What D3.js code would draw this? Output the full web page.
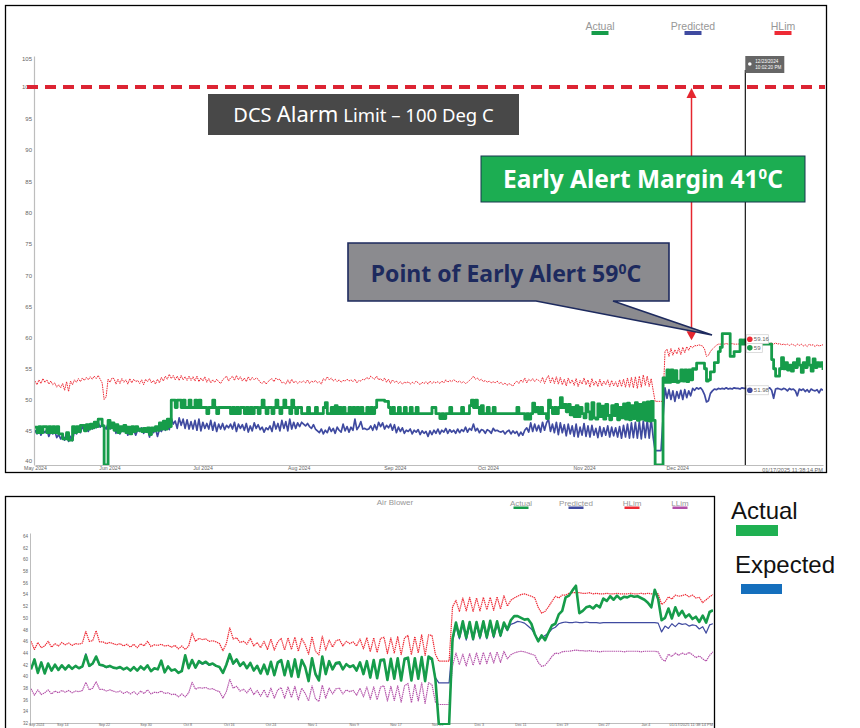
<!DOCTYPE html>
<html><head><meta charset="utf-8">
<script src="https://cdn.jsdelivr.net/npm/d3@7"></script>
<style>html,body{margin:0;background:#fff}svg{display:block}text{font-family:"Liberation Sans",sans-serif}</style>
</head><body><div id="c"></div>
<script>
const topYTicks=[105,100,95,90,85,80,75,70,65,60,55,50,45,40];
const topXLabels=["May 2024","Jun 2024","Jul 2024","Aug 2024","Sep 2024","Oct 2024","Nov 2024","Dec 2024"];
const topXDates=["2024-05-08","2024-06-01","2024-07-01","2024-08-01","2024-09-01","2024-10-01","2024-11-01","2024-12-01"];
const bottomYTicks=[64,62,60,58,56,54,52,50,48,46,44,42,40,38,36,34,32];
const bottomXLabels=["Sep 2024","Sep 14","Sep 22","Sep 30","Oct 8","Oct 16","Oct 24","Nov 1","Nov 9","Nov 17","Nov 25","Dec 3","Dec 11","Dec 19","Dec 27","Jan 4"];
const bottomXDates=["2024-09-08","2024-09-14","2024-09-22","2024-09-30","2024-10-08","2024-10-16","2024-10-24","2024-11-01","2024-11-09","2024-11-17","2024-11-25","2024-12-03","2024-12-11","2024-12-19","2024-12-27","2025-01-04"];
const topSpan=["2024-05-08","2025-01-17"];
const bottomSpan=["2024-09-08","2025-01-17"];

const topActual=[
45.5,44.6,45.6,44.6,45.6,45.6,44.6,45.6,44.6,45.6,44.6,45.6,44.4,44.4,43.6,43.6,44.6,43.4,43.4,45.6,
44.6,45.6,44.8,45.8,45.8,44.9,45.9,45.2,46,45.4,46.3,45.6,46.8,46.8,45.7,39.5,39.5,46.6,45.4,46.2,
45,45.9,44.6,45.6,44.9,45.8,44.6,45.5,44.4,45.6,44.8,45.6,45,45.2,44.8,45.3,44.8,45.4,44.3,45.4,
44.9,45.6,45,46.2,45.2,46.5,45.2,46.8,45.6,49.9,49.9,48.7,49.9,49.9,48.7,49.9,48.7,48.7,49.9,48.7,
48.7,49.9,48.7,49.9,48.7,48.7,48.7,47.7,48.7,48.7,49.9,48.7,47.7,48.7,48.7,48.7,48.7,48.7,48.7,47.7,
48.7,47.7,48.7,47.7,48.7,48.7,47.7,48.7,47.7,48.7,47.7,48.7,48.7,47.7,48.7,49.9,48.7,47.7,48.7,48.7,
47.7,48.7,49.9,48.7,47.7,48.7,49.9,48.7,48.7,47.7,49.9,48.7,47.7,48.7,48.7,47.7,47.7,47.7,48.7,47.7,
47.7,47.7,48.7,47.7,47.7,47.7,48.7,49.5,47.7,47.7,48.7,47.7,49,47.7,48.7,47.7,48.7,47.7,47.7,48.7,
47.7,48.7,47.7,48.7,47.7,48.7,47.7,47.7,48.7,47.7,48.7,47.7,48.7,49.9,49.9,49.9,49.9,49.7,49.7,48.7,
47.7,48.7,47.7,47.7,48.7,47.7,47.7,48.7,47.7,47.7,48.7,47.7,47.7,48.7,47.7,47.7,47.7,47.7,47.7,47.7,
47.7,48.7,48.7,47.7,47.7,46.9,47.7,46.9,47.7,47.7,48.7,47.7,47.7,47.7,47.7,47.7,48.7,47.7,47.7,47.7,
49,49.9,48.7,49.9,48.7,47.7,49,47.7,47.7,48.7,47.7,47.7,48.7,47.7,47.7,47.7,47.7,47.7,47.7,47.7,
47.7,47.7,47.7,47.7,48.7,47.7,47.7,47.7,46.8,47.7,46.8,47.7,49.4,48,48.7,47.7,48.7,47.7,47.7,46.9,
49.9,48.7,47.7,48.7,47.7,48.7,50.3,48.7,49.2,48,49.2,47.5,48.7,47.2,49,47.2,48.7,47.7,47,49.3,
48,46.8,49.5,47,46.8,49.3,47.2,48.9,46.8,49.2,47.4,46.7,49,47.4,49.2,46.7,48.7,47,49.3,46.8,
49.4,46.7,49,46.9,49.5,46.6,49.2,46.8,49.5,46.6,49.6,46.5,49.7,46.6,39.5,39.5,39.5,39.5,53.5,52.8,
54.8,52.8,54.8,52.9,54.7,52.8,53,54.8,53,54.8,52.9,54.8,53.2,55,54.9,55.9,55.9,55.9,55.9,55,
53,53.2,54.5,54.5,56,56,57.8,58.5,60.7,60.7,60.7,60.7,57,57,57.8,57.8,57.8,59.7,59,59.7,
59,59,59.7,59,59,59,59,59,59,59,59,59,59,56.5,55,53.8,53.8,55,56.8,55,
56,54.8,55.6,54.6,56,55.2,56.6,55.6,54.4,56,55.2,56.8,55.6,54.6,56.6,55.2,56,55.4,56,54.8];
const topPredicted=[
45,44.4,45.2,44.2,45,44.6,45.1,44,44.8,44.4,44.9,43.8,44.3,43.6,44.2,43.4,44.6,43.2,44,43.3,
45,44.4,45.3,44.6,45.6,45,45.4,44.8,45.8,45.2,46,45.4,46.2,45.5,46,45.6,45.2,46.1,45.2,45.7,
45.9,44.5,45.4,44.4,45.2,44.8,45.3,44.2,45.2,44.5,45,44.2,45.1,44.8,45.4,44.5,44.9,45.2,43.9,45.2,
44.6,45.3,44,45.1,44.8,45.6,45,45.7,45.1,47,46,46.5,45.3,47,45.8,46.8,45.3,46.7,45.2,46.4,
45.2,46.6,45,46.8,44.9,46.3,45.3,46.1,45.2,46.6,45,46.3,44.8,46,45.2,46.1,45.1,45.8,45.4,46,
45.2,46.3,44.8,46,45.3,45.9,45,46.1,44.7,45.7,44.9,46.2,45.3,45.9,45.1,45.5,44.7,45.4,45.1,45.7,
44.8,46.4,45.2,46.1,44.9,46.6,45.3,46.4,44.9,46.8,45.2,46.3,45.3,46.2,45.6,46.3,46,45.7,46.1,45.6,
45.3,45.9,45.2,44.9,44.6,45.2,44.4,45,44.6,45.5,44.8,45.3,44.5,45.5,45,44.7,46,44.9,45.6,44.7,
45.5,45,46.8,45.1,45.6,46.4,45.2,45.3,45.1,45.2,45.7,45,45.9,45.1,46.3,45.6,46.2,45.2,45.8,45.4,
46,45,45.9,44.6,45.5,44.8,45.4,44.5,45,44.8,45.2,44.4,45,44.7,45.1,44.3,44.9,44.5,44.8,44,
44.9,44.3,45,44.5,45.2,44.4,45,44.7,45.3,44.5,45.1,44.7,45,44.5,45.2,44.6,45.1,44.8,45.5,44.7,
45.3,45,46,44.9,45.3,44.6,45.1,45,44.5,45.1,44.9,44.5,45.3,44.9,45,44.8,44.7,44.9,44.4,44.8,
45,44.4,44.9,44.5,44.8,44.1,44.7,44.2,45,45.4,44.7,46.2,44.8,46,44.9,45.8,44.7,46.3,45,46.2,
46.8,44.8,46,44.6,46.3,44.3,46.2,44.6,45.9,44.1,46,44.4,45.7,44,46,43.9,45.5,44.2,46.1,44,
45.7,43.9,45.8,44.2,45.3,43.8,45.6,44,45.4,44.2,45.7,43.9,45.5,44.1,45.4,43.9,45.6,43.7,45.8,43.9,
46,43.7,46.2,43.8,46.3,43.7,46.4,43.6,46.5,43.8,46.6,43.7,46.8,43.9,41.7,41.7,41.7,41.7,47,51.9,
50.2,51.6,50,51.4,49.7,51.3,50.2,51.5,50,51.6,50.3,51.4,50.6,51.8,51.5,51.9,51.7,51.9,51.5,50.8,
49.6,49.8,51,51.4,51.7,51.6,51.8,51.7,51.8,51.7,51.9,51.7,51.8,51.7,51.9,51.8,51.8,51.7,51.9,51.8,
51.8,51.9,51.9,51.8,51.9,51.9,51.8,51.9,51.8,51.9,51.9,51.8,51.9,51.5,50.2,51.7,51.8,51.7,51.6,51.8,
51.7,51.4,51.8,51.6,51.7,51.4,50.6,51.7,51.5,51.7,51.3,51.6,51.2,51.7,51.5,51.4,51.6,51.1,51.7,51.5];
const topHLim=[
53,52.4,53.2,52.6,53.4,52.8,53.2,52.5,53,52.4,52.7,52,52.4,51.9,52.6,51.5,52.9,51.3,53,52.4,
53.2,52.8,53.4,52.9,53.5,53.1,53.6,53.2,53.7,53.3,53.8,53.4,53.9,53.3,52.7,50,50.4,53.3,52.8,53.5,
53.4,52.5,53.3,52.6,53.4,52.8,53.2,52.5,53.4,52.7,53.3,52.9,53.1,52.6,53.2,52.4,53.3,52.9,53.4,52.7,
53.1,52.5,53.3,52.7,53.6,53,53.8,53.3,54.1,53.4,53.9,53.2,53.8,53.1,53.9,53.2,53.7,53.1,53.8,53.1,
53.7,53,53.8,52.9,53.5,53,53.7,52.8,53.4,52.7,53.2,52.8,53.3,52.9,52.6,53.2,53.5,53.8,53,53.5,
53.8,53.1,53.9,53.2,53.7,53,53.5,52.9,53.7,53.1,53.6,53.2,53.5,53.3,52.8,52.6,53,52.5,52.9,53.2,
53.4,52.9,53.5,53.2,53.3,52.7,52.8,52.5,53.2,52.6,53.3,52.7,53,52.6,52.9,52.8,53,52.7,53.2,52.6,
53,52.8,53.1,52.7,52.9,52.5,53.4,53.1,53.7,53.2,53.5,53,53.3,52.9,53.2,52.8,53.1,53,53.3,53,
53.2,52.9,53.3,52.7,53.1,53,53.3,53.2,53.6,53.3,53.8,53.5,53.3,53.8,53.2,53.4,53,53.5,52.8,53.3,
52.6,53.2,52.8,53,52.6,52.9,52.5,52.8,52.7,52.9,52.5,52.8,52.6,53,52.7,52.4,52.8,52.6,52.9,52.5,
53,52.6,52.9,52.7,52.9,52.6,53,52.7,53.2,52.8,53.1,52.9,53.2,53,52.8,53,52.7,52.9,52.6,52.8,
53.1,53.4,53.8,53.3,53.5,53.1,53.3,52.9,53.1,52.8,53,52.7,52.9,52.7,53,52.6,52.8,52.4,52.7,52.3,
52.6,52.4,52.2,52.7,53,52.6,53.2,52.8,53.5,52.7,53.3,53,53.4,52.9,53.3,53.1,52.8,53.6,52.6,53.4,
53.9,52.7,53.6,52.6,53.7,52.5,53.6,52.4,53.3,52.2,53.5,52.6,53.2,52.3,53.4,52.1,53.1,52.5,53.5,52.4,
53.2,52,53.4,52.3,53,52.1,53.3,52.2,53,52.4,53.2,52.1,53.1,52.2,52.9,52,53.2,52.1,53.3,52,
53.5,52,53.6,51.9,53.7,51.8,53.8,52,54,52.3,53.8,52.1,53.4,51.5,49.7,49.7,49.7,49.7,49.7,57.8,
58.2,57,58.3,57.2,58.1,57.4,58.4,57.3,58.5,57.6,58.6,58,58.7,58.4,58.8,58.7,58.9,58.8,58.7,58.2,
57,57.2,57.8,58.2,58.5,58.8,59,59,59.1,59,59.1,59,59,59.1,59,59,59,59.1,59,59.1,
59.1,59,59.1,59,59.2,59.1,59,59.1,58.9,59.1,59.2,59,59.1,59.2,59,59.2,59,59.1,58.9,59,
58.9,59,58.8,59,58.9,58.7,59,58.8,59,58.7,58.9,58.6,59,58.8,58.9,58.6,58.9,58.7,58.8,58.9];

const bottomActual=[
41.2,42.9,40.6,42.4,40.5,42.2,41,42,41.1,41.9,
41.2,41.9,41.3,41.8,41.4,41.7,43.6,41.8,42.2,43.4,
42,41.9,41.6,41.8,41.5,41.4,41.6,41.2,41.5,41,
41.6,41,41.7,41.2,41.9,40.9,41.4,41.2,42.7,40.7,
41.7,41,41.2,40.6,40.9,43.6,41.4,42.8,41.5,42.6,
42.2,42.5,42,42.2,41.8,41.6,40.6,42,43.8,42.2,
42.9,41.8,42.4,41.4,42.3,41,41.8,40.5,42,40.4,
42.5,40.2,42.4,42.8,40.2,42.6,40,42.9,39.9,42.8,
41.6,39.2,43.1,40.4,39.3,43.4,40.4,42.6,41.2,42.3,
42.4,41.2,42.1,41.6,41.9,41,42.4,40.4,42.6,39.8,
42.8,39.7,42.8,42.9,39.4,43,39.6,43.1,39.3,43,
43.2,39.3,43.1,39.6,43.3,39.2,43.4,43,39.5,31.8,
31.8,31.8,31.8,46.4,49.2,46.8,49.4,46.6,49.3,46.4,
49.3,46.8,49.4,46.7,49.5,46.9,49.4,47,49.2,48,
49.6,50.3,50.3,50,49.7,49.8,49,47.2,46,47,
46.2,47.5,48.7,49,50.6,51.2,53.5,53.8,54.7,55.5,
50.8,51.2,51.8,52,51.6,52.2,51.8,53.3,52.9,53.7,
53.1,53.8,53.2,53.6,53.5,53.8,53.6,53.7,53.4,53.1,
52.6,51.8,54.8,53.2,49.6,50,51.6,49.9,51.8,50.4,
51.2,50.1,50.6,49.8,50.2,49.3,50.4,49.2,51,51.3];
const bottomPredicted=[
41.4,42.6,40.8,42.2,40.7,42,41.1,41.8,41.2,41.7,
41.3,41.7,41.4,41.7,41.4,41.6,43.9,41.7,42.1,43.2,
41.9,41.8,41.5,41.7,41.5,41.3,41.5,41.2,41.4,41,
41.5,41,41.6,41.2,41.8,41,41.3,41.2,42.5,40.8,
41.6,41.1,41.2,40.7,41,43.2,41.4,42.6,41.5,42.4,
42.1,42.3,41.9,42.1,41.8,41.6,40.8,41.9,43.4,42.1,
42.7,41.8,42.2,41.5,42.2,41.1,41.7,40.7,41.9,40.6,
42.3,40.4,42.2,42.6,40.4,42.4,40.2,42.7,40.1,42.6,
41.5,39.5,42.9,40.6,39.6,43.1,40.6,42.4,41.2,42.1,
42.2,41.2,42,41.6,41.8,41.1,42.2,40.6,42.4,40,
42.6,39.9,42.6,42.7,39.7,42.8,39.8,42.9,39.6,42.8,
43,39.6,42.9,39.9,43.1,39.5,43.1,42.8,39.8,38.9,
38.9,38.9,38.9,46,48.6,46.4,48.8,46.2,48.7,46.2,
48.7,46.4,48.8,46.4,48.9,46.6,48.8,46.8,48.8,47.8,
48.9,49.1,49.4,49.3,49.1,48.6,48.1,47.2,46.2,46.6,
47,47.4,48.1,48.4,49,49.2,49.3,49.2,49.2,49.3,
49.2,49.2,49.3,49.2,49.2,49.2,49.1,49.2,49.2,49.2,
49.2,49.2,49.2,49.2,49.2,49.2,49.2,49.2,49.2,49.2,
49.2,49.2,49.2,49.1,47.6,48.6,48.2,49,48.5,49.1,
48.9,49,48.6,48.8,48.7,48.1,48.5,47.4,48.8,49];
const bottomHLim=[
46,44.6,45.8,44.9,45.2,46,45,45.6,45.2,45.8,
45.4,45.7,45.3,45.6,45.5,45.7,47.7,46,46.1,47.8,
45.9,45.9,45.6,45.8,45.6,45.4,45.6,45.2,45.5,45,
45.5,44.9,45.6,45.2,46,45.1,45.4,45.3,45.5,45.2,
45.3,45,45.3,44.7,45.2,44.6,45.2,47.4,46,46.5,
46.3,46.4,46,46.1,45.9,45.6,44.4,45.6,48.3,46.4,
46.6,45.8,46,45.5,46.5,45.2,45.8,44.9,46,44.6,
46.4,44.5,45.9,46.5,44.5,46.6,44.6,46.7,44.3,46.5,
45.4,43.8,46.8,44.3,43.7,46.9,44.5,46.2,45,46.1,
46.3,45.2,46,45.6,45.9,45.2,46.4,44.7,46.6,44.2,
46.6,44.1,46.5,46.7,43.9,46.6,44,46.8,43.7,46.6,
47,43.7,46.8,44,47.1,43.6,47.1,47,43.8,42.6,
42.6,42.6,42.6,51.9,53,51.1,53.4,51.2,53.5,51.1,
53.4,51.2,53.5,51.4,53.5,51.3,53.6,51.5,53.8,52,
53,53.4,53.7,54,54.1,53.9,53.7,53.4,51.8,50.8,
51.1,51.9,52.8,53.7,53.4,53.9,53.9,54.2,54.3,54.3,
54.3,54.2,54.2,54.3,54.1,54.2,54.1,54.1,54.2,54.1,
54.1,54.2,54.1,54.1,54.1,54.2,54.1,54.1,54.2,54.1,
54.2,54.1,54.2,54.1,52.3,52.7,53.6,53.2,53.9,53.7,
53.8,54,53.6,53.9,53.4,53.5,52.6,53.1,53.6,54];
const bottomLLim=[
37.9,36.8,37.7,36.9,37.2,37.7,37,37.5,37.2,37.6,
37.3,37.6,37.2,37.5,37.4,37.6,39,37.7,38,39.1,
37.8,37.8,37.5,37.7,37.5,37.3,37.5,37.1,37.4,37,
37.4,36.9,37.5,37.1,37.7,37,37.3,37.2,37.5,37.1,
37.2,36.9,37,36.5,37,36.5,37.2,39,37.8,38.1,
38,38.1,37.8,37.9,37.6,37.4,36.3,37.4,39.5,38,
38.3,37.5,37.8,37.2,38,36.9,37.6,36.6,37.7,36.4,
38,36.3,37.7,38.1,36.3,38.2,36.4,38.3,36,38,
37.1,35.8,38.4,36.2,35.7,38.5,36.3,38,37,37.9,
38,37,37.7,37.4,37.6,36.8,38,36.5,38.2,36.1,
38.2,36,38.2,38.4,35.8,38.3,35.9,38.4,35.6,38.4,
38.8,35.5,38.6,35.8,38.9,35.4,38.9,38.6,35.6,35.2,
35.2,35.2,35.2,41.8,44,42,43.8,41.8,43.9,41.9,
44,42,44.1,42.2,44.1,42.3,44.2,42.4,44.3,43,
43.7,44,44.2,44.3,44.2,44,43.8,43.6,42.4,41.7,
41.9,42.6,43.4,44,43.9,44.2,44.3,44.3,44.4,44.5,
44.4,44.4,44.3,44.4,44.3,44.3,44.2,44.3,44.3,44.3,
44.3,44.3,44.3,44.2,44.3,44.3,44.3,44.3,44.2,44.3,
44.3,44.3,44.3,44.2,43,42.6,43.8,43.4,44,43.6,
44,43.7,44.1,43.7,43.2,43.5,43,42.6,43.6,44.2];

const alarmLimit=100, pointerValue=59.16;
const cursorLabels=[["59.16",59.8],["59",58.4],["51.98",51.5]];

const C={green:"#169c4a",blue:"#3f4aa0",red:"#ee2a35",mag:"#b24fa8",axis:"#bdbdbd",label:"#666"};
const svg=d3.select("#c").append("svg").attr("width",860).attr("height",728);
svg.append("rect").attr("width",860).attr("height",728).attr("fill","#fff");
const P=d=>new Date(d+"T00:00:00");
const frame=(x,y,w,h)=>svg.append("rect").attr("x",x).attr("y",y).attr("width",w).attr("height",h).attr("fill","#fff").attr("stroke","#000").attr("stroke-width",1.3);
frame(5.5,5.5,821,467);
frame(5.5,496.5,709,240);

function chart(cfg){
  const x=d3.scaleTime().domain(cfg.span.map(P)).range(cfg.xr);
  const y=d3.scaleLinear().domain(cfg.yd).range(cfg.yr);
  const g=svg.append("g");
  const cid="clip"+cfg.id, yBot=cfg.yr[0], yTop=cfg.yr[cfg.yr.length-1];
  svg.append("clipPath").attr("id",cid).append("rect").attr("x",cfg.xr[0]).attr("y",yTop).attr("width",cfg.xr[1]-cfg.xr[0]).attr("height",yBot-yTop);
  const ya=g.append("g").attr("transform",`translate(${cfg.xr[0]-1},0)`).call(d3.axisLeft(y).tickValues(cfg.yt).tickSize(0).tickPadding(2));
  const xa=g.append("g").attr("transform",`translate(0,${cfg.xaY})`).call(d3.axisBottom(x).tickValues(cfg.xd.map(P)).tickFormat((d,i)=>cfg.xl[i]).tickSize(0).tickPadding(cfg.xpad));
  [ya,xa].forEach(a=>{a.select(".domain").attr("stroke",C.axis).attr("stroke-width",cfg.axw);a.selectAll("text").attr("fill",C.label);});
  ya.selectAll("text").attr("font-size",cfg.tf);
  xa.selectAll("text").attr("font-size",cfg.xf);
  xa.selectAll(".tick text").filter((d,i)=>i===0).attr("dx",cfg.firstDx);
  xa.append("text").attr("x",cfg.xr[1]).attr("y",cfg.stampY).attr("text-anchor","end").attr("fill",C.label).attr("font-size",cfg.xf+.4).text("01/17/2025 11:38:14 PM");
  const [t0,t1]=cfg.span.map(d=>+P(d));
  const plot=g.append("g").attr("clip-path",`url(#${cid})`);
  cfg.series.forEach(s=>{
    const n=s.v.length;
    const line=d3.line().x((d,i)=>x(new Date(t0+(t1-t0)*i/(n-1)))).y(d=>y(d)).curve(s.step?d3.curveStepAfter:d3.curveLinear);
    plot.append("path").attr("d",line(s.v)).attr("fill","none").attr("stroke",s.c).attr("stroke-width",s.w).attr("stroke-dasharray",s.dash||null).attr("stroke-linejoin","round");
  });
  return {x,y,g};
}
function legend(items,fs,sw,sh,dy){
  items.forEach(it=>{
    svg.append("text").attr("x",it.x).attr("y",it.y).attr("text-anchor","middle").attr("font-size",fs).attr("fill","#979797").text(it.t);
    if(it.c) svg.append("rect").attr("x",it.x-sw/2).attr("y",it.y+dy).attr("width",sw).attr("height",sh).attr("fill",it.c);
  });
}

const T=chart({id:"t",span:topSpan,xr:[35,823],yd:[39.5,40,60,100,105,105.5],yr:[465,461,338,87,59,56],yt:topYTicks,xd:topXDates,xl:topXLabels,axw:1.2,tf:6,xf:5.2,xaY:465,xpad:1,stampY:6.5,firstDx:0,
  series:[{v:topPredicted,c:C.blue,w:1.7},{v:topHLim,c:C.red,w:1,dash:"1.6 .8"},{v:topActual,c:C.green,w:2.8,step:true}]});
const B=chart({id:"b",span:bottomSpan,xr:[31,713],yd:[31.7,64.5],yr:[725,533],yt:bottomYTicks,xd:bottomXDates,xl:bottomXLabels,axw:1,tf:4.5,xf:3.6,xaY:723,xpad:0,stampY:2.6,firstDx:5,
  series:[{v:bottomPredicted,c:C.blue,w:1.2},{v:bottomHLim,c:C.red,w:1.2,dash:"1.4 .7"},{v:bottomLLim,c:C.mag,w:1.2,dash:"1.4 .7"},{v:bottomActual,c:C.green,w:2.6}]});

legend([{t:"Actual",x:600,y:30,c:C.green},{t:"Predicted",x:693,y:30,c:C.blue},{t:"HLim",x:783,y:30,c:C.red}],10.5,17,4,1);
legend([{t:"Air Blower",x:395,y:505},{t:"Actual",x:521,y:506,c:C.green},{t:"Predicted",x:576,y:506,c:C.blue},{t:"HLim",x:632,y:506,c:C.red},{t:"LLim",x:680,y:506,c:C.mag}],8,15,2.5,0.5);

// cursor and its labels
const cx=745.3;
svg.append("line").attr("x1",cx).attr("x2",cx).attr("y1",70).attr("y2",465).attr("stroke","#000").attr("stroke-width",1.1);
svg.append("rect").attr("x",cx).attr("y",56).attr("width",39).attr("height",17).attr("fill","#666");
svg.append("text").attr("x",cx+10).attr("y",63).attr("font-size",4.6).attr("fill","#fff").text("12/23/2024");
svg.append("text").attr("x",cx+10).attr("y",69).attr("font-size",4.6).attr("fill","#fff").text("10:02:20 PM");
svg.append("circle").attr("cx",cx+4.5).attr("cy",64).attr("r",1.8).attr("fill","#fff");
[[C.red,0],[C.green,1],[C.blue,2]].forEach(([c,i])=>{
  const [t,v]=cursorLabels[i],yy=T.y(v);
  svg.append("rect").attr("x",cx+1).attr("y",yy-4.5).attr("width",i==1?16:22).attr("height",9).attr("fill","#fff").attr("stroke","#ccc").attr("stroke-width",.7);
  svg.append("circle").attr("cx",cx+4.5).attr("cy",yy).attr("r",2.8).attr("fill",c);
  svg.append("text").attr("x",cx+8.5).attr("y",yy+2).attr("font-size",6).attr("fill","#666").text(t);
});

// annotations
const yA=T.y(alarmLimit), fan='"Noto Sans","Open Sans",sans-serif';
svg.append("line").attr("x1",27).attr("x2",825).attr("y1",yA).attr("y2",yA).attr("stroke","#dc2433").attr("stroke-width",3.8).attr("stroke-dasharray","11 7");
svg.append("rect").attr("x",208).attr("y",94).attr("width",311).attr("height",41).attr("fill","#484848");
const dcs=svg.append("text").attr("x",363.5).attr("y",122).attr("text-anchor","middle").attr("fill","#fff").attr("font-size",20).style("font-family",fan);
dcs.append("tspan").text("DCS ");dcs.append("tspan").attr("font-size",22).text("Alarm");dcs.append("tspan").attr("font-size",18.5).text(" Limit – 100 Deg C");

// arrow
const ax=691.5, yP=T.y(pointerValue)-3;
svg.append("line").attr("x1",ax).attr("x2",ax).attr("y1",yA+6).attr("y2",yP-6).attr("stroke","#e5262f").attr("stroke-width",1.5);
svg.append("path").attr("d",`M${ax},${yA+1}l-5,10h10z`).attr("fill","#e5262f");
svg.append("path").attr("d",`M${ax},${yP}l-5,-9h10z`).attr("fill","#e5262f");

svg.append("rect").attr("x",481).attr("y",156).attr("width",324).attr("height",46).attr("fill","#1cad52").attr("stroke","#17364f").attr("stroke-width",1);
const g1=svg.append("text").attr("x",643).attr("y",188).attr("text-anchor","middle").attr("fill","#fff").attr("font-weight",700).attr("font-size",24.5).style("font-family",fan);
g1.append("tspan").text("Early Alert Margin 41");g1.append("tspan").attr("font-size",15).attr("dy",-9).text("0");g1.append("tspan").attr("dy",9).text("C");

svg.append("path").attr("d","M348,243H669V301H613L712,335L536,301H348Z").attr("fill","#8b8b8f").attr("stroke","#1d2a5e").attr("stroke-width",1.6);
const g2=svg.append("text").attr("x",506).attr("y",282).attr("text-anchor","middle").attr("fill","#1d2a5e").attr("font-weight",700).attr("font-size",23).style("font-family",fan);
g2.append("tspan").text("Point of Early Alert 59");g2.append("tspan").attr("font-size",14).attr("dy",-8).text("0");g2.append("tspan").attr("dy",8).text("C");

// pasted legend
svg.append("text").attr("x",731).attr("y",519).attr("font-size",24).attr("fill","#111").text("Actual");
svg.append("rect").attr("x",736).attr("y",525).attr("width",42).attr("height",11).attr("fill","#1fb052");
svg.append("text").attr("x",735).attr("y",573).attr("font-size",24).attr("fill","#111").text("Expected");
svg.append("rect").attr("x",741).attr("y",584).attr("width",41).attr("height",10).attr("fill","#156fbd");
</script></body></html>
